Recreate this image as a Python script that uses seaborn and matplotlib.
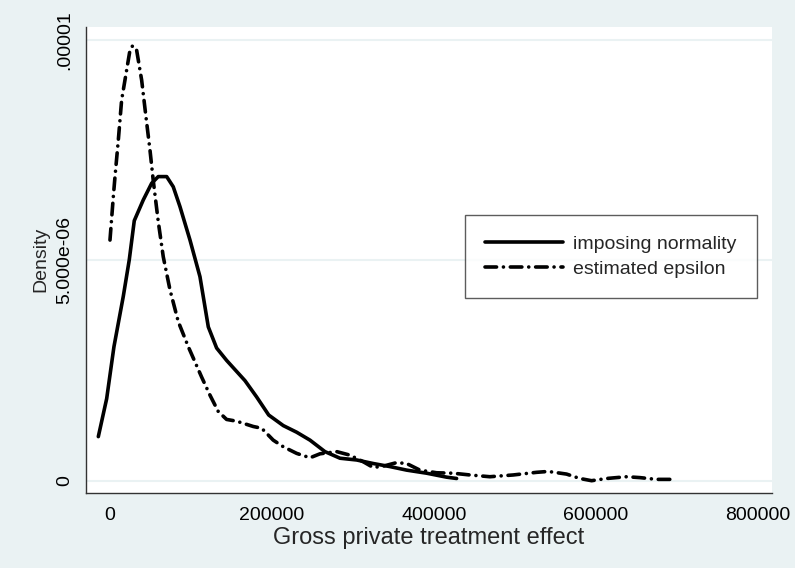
import numpy as np
import pandas as pd
import matplotlib
matplotlib.use("Agg")
import matplotlib.pyplot as plt
import seaborn as sns

# density curves (x in money units, y in 1e-6)
normal_x = [-14400, -4100, 4900, 16400, 23800, 30000, 41100, 51500, 59600, 70000,
            78100, 86400, 98800, 111100, 121400, 131700, 144000, 166700, 181100,
            196000, 214000, 230500, 247000, 265400, 284000, 304600, 325000,
            345700, 366300, 391000, 415700, 428000]
normal_y = [1.0, 1.86, 3.04, 4.18, 5.01, 5.90, 6.37, 6.75, 6.90, 6.90,
            6.67, 6.22, 5.46, 4.63, 3.49, 3.01, 2.73, 2.27, 1.90,
            1.49, 1.25, 1.10, 0.92, 0.66, 0.51, 0.47, 0.39,
            0.32, 0.24, 0.17, 0.08, 0.05]

eps_x = [0, 4100, 6200, 10300, 14400, 20600, 24700, 28000, 32900, 39100,
         44400, 49400, 53500, 59600, 65800, 74100, 84300, 96700, 113200,
         123500, 133700, 144000, 156400, 176900, 187300, 201600, 214000, 230500,
         247000, 259300, 279900, 296300, 312700, 325000, 337400, 353900, 366300,
         382700, 403300, 423800, 444400, 469100, 497900, 526800, 541100, 563800,
         580200, 594700, 613200, 637900, 654300, 674900, 699600]
eps_y = [5.46, 6.44, 6.9, 7.73, 8.64, 9.32, 9.77, 9.87, 9.77, 9.09,
         8.26, 7.5, 6.8, 5.88, 5.08, 4.33, 3.61, 3.04, 2.35,
         1.94, 1.57, 1.39, 1.35, 1.23, 1.19, 0.92, 0.77, 0.62,
         0.52, 0.61, 0.66, 0.58, 0.43, 0.30, 0.33, 0.41, 0.39,
         0.24, 0.18, 0.17, 0.13, 0.09, 0.13, 0.19, 0.21, 0.15,
         0.05, 0.0, 0.05, 0.09, 0.07, 0.03, 0.03]

labels = ["imposing normality", "estimated epsilon"]
x_ticks = [0, 200000, 400000, 600000, 800000]
y_ticks = [0, 5e-6, 1e-5]
y_tick_labels = ["0", "5.000e-06", ".00001"]

df_normal = pd.DataFrame({"x": normal_x, "density": np.array(normal_y) * 1e-6})
df_eps = pd.DataFrame({"x": eps_x, "density": np.array(eps_y) * 1e-6})

bg = "#EAF2F3"
sns.set_theme(style="white")
plt.rcParams["font.family"] = ["Liberation Sans", "DejaVu Sans"]

fig = plt.figure(figsize=(7.95, 5.68), dpi=100, facecolor=bg)
ax = fig.add_axes([0.1088, 0.1326, 0.8618, 0.8199])
ax.set_facecolor("white")

sns.lineplot(data=df_normal, x="x", y="density", ax=ax, color="black",
             lw=2.6, label=labels[0], estimator=None, sort=False)
sns.lineplot(data=df_eps, x="x", y="density", ax=ax, color="black",
             lw=2.6, label=labels[1], estimator=None, sort=False,
             linestyle=(0, (3.2, 1.9, 0.01, 1.9)), dash_capstyle="round")

ax.set_xlim(-29000, 817000)
ax.set_ylim(-2.72e-7, 1.0295e-5)
ax.set_xticks(x_ticks)
ax.set_xticklabels([str(t) for t in x_ticks])
ax.set_yticks(y_ticks)
ax.set_yticklabels(y_tick_labels, rotation=90, va="center")
ax.yaxis.grid(True, color=bg, lw=1.5)
ax.xaxis.grid(False)
ax.set_axisbelow(True)

for side in ["top", "right"]:
    ax.spines[side].set_visible(False)
for side in ["left", "bottom"]:
    ax.spines[side].set_color("#333333")
    ax.spines[side].set_linewidth(1.0)

ax.tick_params(axis="both", which="major", direction="out", length=5.5,
               width=0.9, color="#333333", labelsize=14, labelcolor="black")
ax.tick_params(axis="y", pad=4)
ax.tick_params(axis="x", pad=5)

ax.set_xlabel("Gross private treatment effect", fontsize=17, labelpad=2)
ax.set_ylabel("Density", fontsize=14, labelpad=5)

leg = ax.legend(loc="upper left", bbox_to_anchor=(0.5525, 0.5963),
                borderaxespad=0, fontsize=14, handlelength=4.0,
                handletextpad=0.5, labelspacing=0.38, borderpad=1.05,
                frameon=True, fancybox=False)
leg.get_frame().set_edgecolor("#333333")
leg.get_frame().set_linewidth(1.0)

fig.savefig("out.png", dpi=100, facecolor=bg)
